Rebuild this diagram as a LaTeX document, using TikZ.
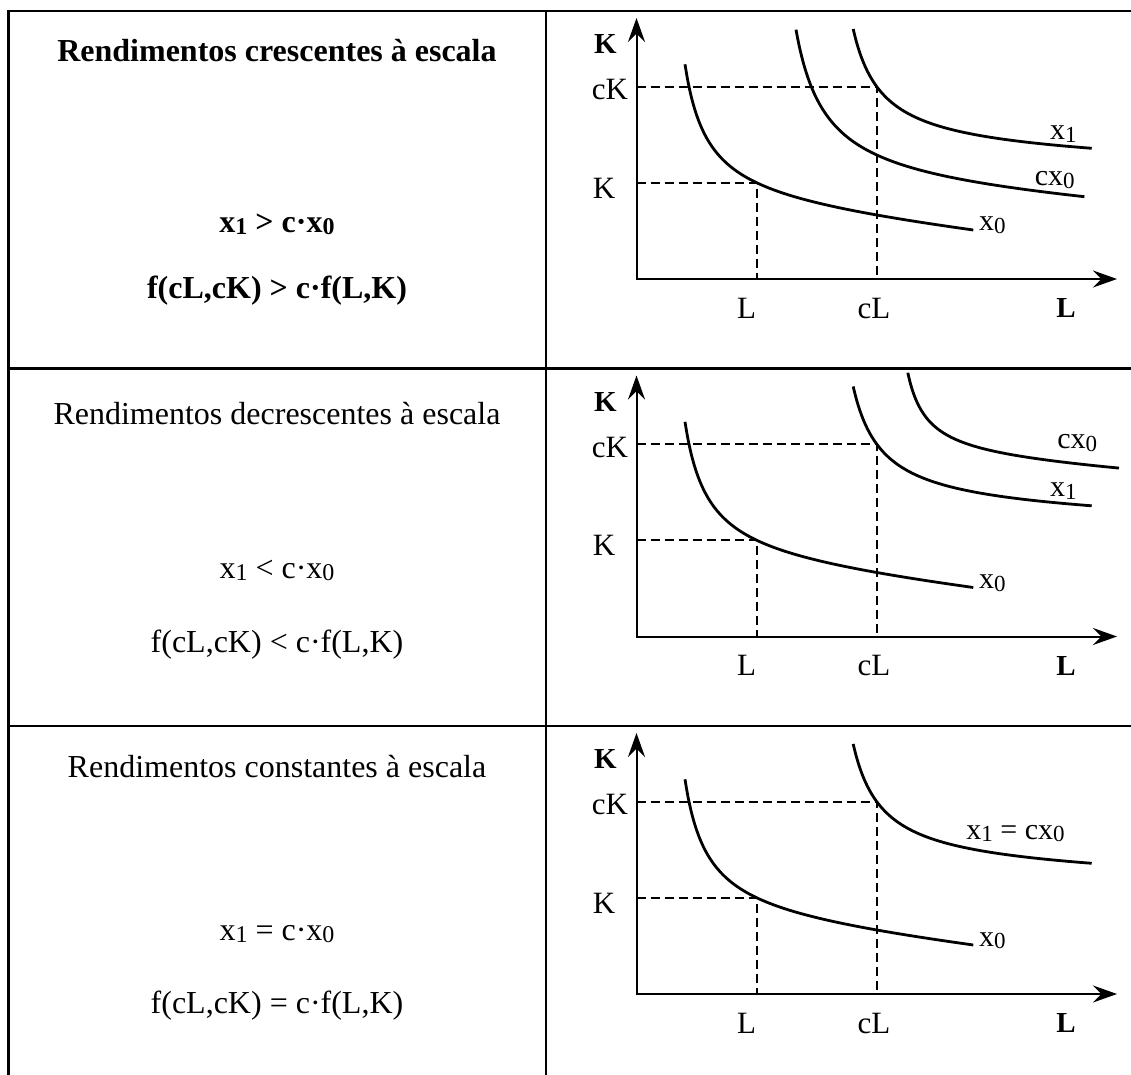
\documentclass[tikz,border=0pt]{standalone}
\usepackage{fontspec}
\setmainfont{Liberation Serif}
\usetikzlibrary{arrows.meta}
\newcommand{\eqsub}[1]{\raisebox{-1pt}{\fontsize{12pt}{12pt}\selectfont #1}}
\newcommand{\lbsub}[1]{\raisebox{-1.3pt}{\fontsize{11.5pt}{11.5pt}\selectfont #1}}
\tikzset{
  frame/.style={line width=1.1pt},
  axes/.style={line width=1pt, {Stealth[length=12pt,width=8.5pt,inset=4.2pt]}-{Stealth[length=12pt,width=8.5pt,inset=4.2pt]}},
  guide/.style={line width=0.9pt, dash pattern=on 4.5pt off 2.5pt},
  curve/.style={line width=1.4pt},
  lbl/.style={font=\fontsize{15.5pt}{18pt}\selectfont, inner sep=0pt},
  blbl/.style={font=\fontsize{14.5pt}{17pt}\selectfont\bfseries, inner sep=0pt},
  clbl/.style={font=\fontsize{15pt}{18pt}\selectfont, inner sep=0pt, anchor=base west},
  ttl/.style={font=\fontsize{16pt}{19pt}\selectfont, inner sep=0pt, anchor=base},
  bttl/.style={font=\fontsize{16pt}{19pt}\selectfont\bfseries, inner sep=0pt, anchor=base},
}
\newcommand{\panelbase}[1]{%
  \coordinate (o#1) at (0,0);
  \coordinate (yt#1) at (0,-261);
  \coordinate (xt#1) at (480.5,0);
  \coordinate (ck#1) at (0,-192.3);
  \coordinate (k#1) at (0,-96.3);
  \coordinate (pa#1) at (240.3,-192.3);
  \coordinate (pb#1) at (120.1,-96.3);
  \coordinate (cl#1) at (240.3,0);
  \coordinate (l#1) at (120.1,0);
  \draw[guide] (ck#1) -- (pa#1) -- (cl#1);
  \draw[guide] (k#1) -- (pb#1) -- (l#1);
  \draw[axes] (yt#1) -- (o#1) -- (xt#1);
  \node[blbl] (tk#1) at (-31,-234.7) {K};
  \node[lbl] (tck#1) at (-26.5,-189.3) {cK};
  \node[lbl] (tkk#1) at (-32.5,-90.7) {K};
  \node[lbl] (tl#1) at (110,29.3) {L};
  \node[lbl] (tcl#1) at (237.5,29.3) {cL};
  \node[blbl] (tll#1) at (429.5,29.3) {L};
  \draw[curve] plot[domain=48.5:336.8, samples=200] ({\x},{-(3276/(\x-26)+74.26-0.1063*\x)});
  \node[clbl] (tx0#1) at (342.3,-48) {x\lbsub{0}};
}
\begin{document}
\begin{tikzpicture}[x=0.5pt, y=-0.5pt]
\useasboundingbox (0,0) rectangle (1131,1075);
\clip (0,0) rectangle (1131,1075);
% table frame
\coordinate (tl) at (8.5,11);
\coordinate (tr) at (1140,11);
\coordinate (bl) at (8.5,1085);
\coordinate (dt) at (546,11);
\coordinate (db) at (546,1085);
\coordinate (r1l) at (8.5,368.5);
\coordinate (r1r) at (1140,368.5);
\coordinate (r2l) at (8.5,726);
\coordinate (r2r) at (1140,726);
\draw[frame] (bl) -- (tl) -- (tr);
\draw[frame] (dt) -- (db);
\draw[frame] (r1l) -- (r1r);
\draw[frame] (r2l) -- (r2r);
% left column texts
\node[bttl] (t1) at (277,62) {Rendimentos crescentes à escala};
\node[bttl] (e1a) at (277,233) {x\eqsub{1} > c·x\eqsub{0}};
\node[bttl] (e1b) at (277,299) {f(cL,cK) > c·f(L,K)};
\node[ttl] (t2) at (277,424) {Rendimentos decrescentes à escala};
\node[ttl] (e2a) at (277,578) {x\eqsub{1} < c·x\eqsub{0}};
\node[ttl] (e2b) at (277,652) {f(cL,cK) < c·f(L,K)};
\node[ttl] (t3) at (277,777) {Rendimentos constantes à escala};
\node[ttl] (e3a) at (277,940) {x\eqsub{1} = c·x\eqsub{0}};
\node[ttl] (e3b) at (277,1013) {f(cL,cK) = c·f(L,K)};
% panel 1
\begin{scope}[shift={(636.5,279)}]
  \panelbase{a}
  \draw[curve] plot[domain=216.7:455.2, samples=200] ({\x},{-(3632/(\x-188)+129.29-0.02676*\x)});
  \draw[curve] plot[domain=159.5:447.9, samples=200] ({\x},{-(4842/(\x-130)+95.2-0.0628*\x)});
  \node[clbl] (x1a) at (413.3,-139) {x\lbsub{1}};
  \node[clbl] (cx0a) at (398,-93.3) {cx\lbsub{0}};
\end{scope}
% panel 2
\begin{scope}[shift={(636.5,636.5)}]
  \panelbase{b}
  \draw[curve] plot[domain=216.7:455.2, samples=200] ({\x},{-(3632/(\x-188)+129.29-0.02676*\x)});
  \draw[curve] plot[domain=271.3:482.5, samples=200] ({\x},{-(1723/(\x-252)+191.95-0.0643*\x)});
  \node[clbl] (x1b) at (413.3,-140) {x\lbsub{1}};
  \node[clbl] (cx0b) at (420.5,-187.7) {cx\lbsub{0}};
\end{scope}
% panel 3
\begin{scope}[shift={(636.5,994)}]
  \panelbase{c}
  \draw[curve] plot[domain=216.7:455.2, samples=200] ({\x},{-(3632/(\x-188)+129.29-0.02676*\x)});
  \node[clbl] (x1c) at (329.5,-154.7) {x\lbsub{1} = cx\lbsub{0}};
\end{scope}
\end{tikzpicture}
\end{document}
